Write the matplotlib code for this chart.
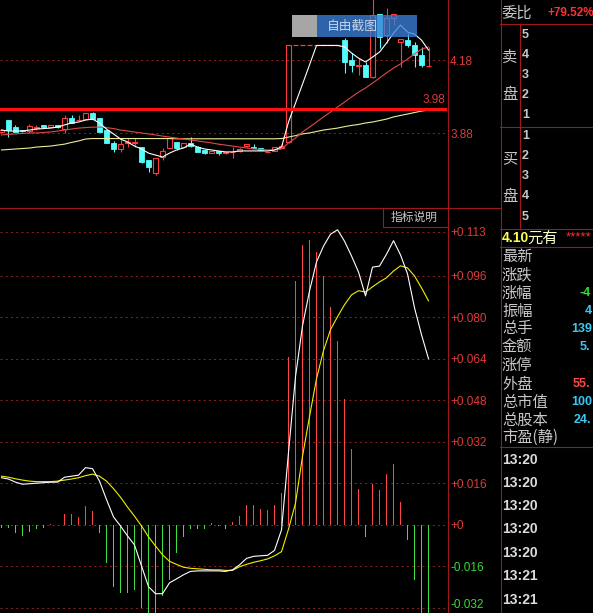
import matplotlib
matplotlib.use("Agg")
import matplotlib.pyplot as plt
from matplotlib.patches import Rectangle
from matplotlib.lines import Line2D
import matplotlib.transforms as mtransforms
import numpy as np

plt.rcParams['font.family'] = ['Liberation Sans', 'Noto Sans CJK SC', 'DejaVu Sans']

W, H = 593, 613

# ---------------- price panel: one entry per bar ----------------
opens = [3.885, 3.934, 3.905, 3.893, 3.889, 3.903, 3.914, 3.905, 3.914, 3.897,
         3.942, 3.934, 3.938, 3.963, 3.942, 3.893, 3.840, 3.815, 3.840, 3.840,
         3.823, 3.770, 3.716, 3.782, 3.819, 3.844, 3.823, 3.840, 3.823, 3.811,
         3.798, 3.807, 3.798, 3.801, 3.807, 3.827, 3.823, 3.819, 3.801, 3.807,
         3.819, 3.844, 4.241, 4.241, 4.241, 4.241, 4.241, 4.241, 4.241, 4.263,
         4.181, 4.158, 4.161, 4.111, 4.370, 4.284, 4.354, 4.255, 4.263, 4.243,
         4.202, 4.156]
highs = [3.897, 3.934, 3.914, 3.893, 3.918, 3.914, 3.914, 3.914, 3.914, 3.955,
         3.955, 3.955, 3.963, 3.967, 3.942, 3.893, 3.848, 3.860, 3.860, 3.860,
         3.823, 3.770, 3.778, 3.819, 3.860, 3.844, 3.840, 3.864, 3.827, 3.811,
         3.807, 3.807, 3.803, 3.823, 3.819, 3.835, 3.835, 3.819, 3.803, 3.823,
         3.840, 4.241, 4.241, 4.241, 4.241, 4.241, 4.241, 4.241, 4.241, 4.272,
         4.210, 4.189, 4.173, 4.449, 4.370, 4.395, 4.370, 4.268, 4.292, 4.255,
         4.235, 4.235]
lows = [3.881, 3.864, 3.885, 3.885, 3.881, 3.893, 3.901, 3.905, 3.901, 3.881,
        3.922, 3.930, 3.938, 3.938, 3.885, 3.840, 3.803, 3.803, 3.823, 3.823,
        3.757, 3.720, 3.708, 3.770, 3.819, 3.811, 3.823, 3.823, 3.803, 3.794,
        3.798, 3.790, 3.794, 3.778, 3.803, 3.823, 3.819, 3.811, 3.798, 3.807,
        3.819, 3.840, 4.241, 4.241, 4.241, 4.241, 4.241, 4.241, 4.241, 4.128,
        4.132, 4.119, 4.111, 4.107, 4.230, 4.251, 4.325, 4.152, 4.235, 4.152,
        4.152, 4.152]
closes = [3.893, 3.893, 3.885, 3.887, 3.910, 3.905, 3.905, 3.914, 3.905, 3.942,
          3.922, 3.936, 3.963, 3.938, 3.885, 3.840, 3.815, 3.835, 3.842, 3.842,
          3.761, 3.741, 3.778, 3.807, 3.860, 3.819, 3.840, 3.827, 3.803, 3.798,
          3.807, 3.798, 3.801, 3.803, 3.815, 3.835, 3.819, 3.811, 3.803, 3.823,
          3.827, 4.241, 4.241, 4.241, 4.241, 4.241, 4.241, 4.241, 4.241, 4.173,
          4.161, 4.161, 4.111, 4.366, 4.276, 4.354, 4.370, 4.268, 4.243, 4.202,
          4.161, 4.158]

ma_short = [3.893, 3.889, 3.889, 3.889, 3.893, 3.897, 3.899, 3.901, 3.905, 3.914,
            3.922, 3.926, 3.934, 3.938, 3.922, 3.897, 3.877, 3.856, 3.844, 3.827,
            3.815, 3.798, 3.790, 3.782, 3.798, 3.811, 3.819, 3.835, 3.823, 3.815,
            3.811, 3.807, 3.803, 3.803, 3.807, 3.807, 3.807, 3.807, 3.807, 3.811,
            3.823, 3.926, 4.004, 4.082, 4.161, 4.241, 4.241, 4.241, 4.241, 4.235,
            4.210, 4.189, 4.173, 4.193, 4.214, 4.251, 4.292, 4.325, 4.296, 4.288,
            4.263, 4.222]
ma_mid = [3.873, 3.875, 3.877, 3.879, 3.881, 3.881, 3.883, 3.885, 3.889, 3.893,
          3.897, 3.901, 3.903, 3.905, 3.905, 3.903, 3.899, 3.893, 3.889, 3.885,
          3.881, 3.877, 3.873, 3.868, 3.864, 3.860, 3.856, 3.852, 3.848, 3.844,
          3.840, 3.835, 3.831, 3.827, 3.823, 3.819, 3.815, 3.813, 3.811, 3.811,
          3.815, 3.840, 3.860, 3.885, 3.905, 3.926, 3.947, 3.967, 3.988, 4.008,
          4.029, 4.049, 4.066, 4.086, 4.107, 4.128, 4.148, 4.165, 4.185, 4.206,
          4.226, 4.235]
ma_long = [3.811, 3.813, 3.815, 3.817, 3.819, 3.823, 3.825, 3.827, 3.831, 3.835,
           3.842, 3.848, 3.856, 3.858, 3.858, 3.858, 3.858, 3.858, 3.858, 3.858,
           3.858, 3.858, 3.858, 3.858, 3.858, 3.857, 3.857, 3.857, 3.857, 3.857,
           3.857, 3.857, 3.857, 3.857, 3.857, 3.857, 3.857, 3.857, 3.857, 3.857,
           3.858, 3.864, 3.870, 3.877, 3.881, 3.887, 3.893, 3.897, 3.901, 3.907,
           3.912, 3.916, 3.922, 3.926, 3.932, 3.938, 3.947, 3.953, 3.959, 3.965,
           3.971, 3.975]

price_ticks = [4.18, 3.88]
price_tick_labels = ["4.18", "3.88"]
pressure_level = 3.98
pressure_label = "3.98"

# ---------------- MACD panel ----------------
macd_hist = [-0.0013, -0.0013, -0.0033, -0.0043, -0.0027, -0.0017, -0.0011, 0.0002, -0.0002, 0.0040,
             0.0040, 0.0031, 0.0073, 0.0054, -0.0031, -0.0146, -0.0241, -0.0263, -0.0263, -0.0253,
             -0.0321, -0.0365, -0.0352, -0.0276, -0.0212, -0.0108, -0.0046, -0.0017, -0.0017, -0.0017,
             0.0008, -0.0006, -0.0016, 0.0010, 0.0035, 0.0076, 0.0076, 0.0062, 0.0056, 0.0076,
             0.0122, 0.0645, 0.0940, 0.1078, 0.1096, 0.1052, 0.0959, 0.0840, 0.0707, 0.0483,
             0.0291, 0.0136, -0.0046, 0.0156, 0.0133, 0.0195, 0.0233, 0.0088, -0.0059, -0.0212,
             -0.0380, -0.0380]
dif = [0.0181, 0.0176, 0.0164, 0.0156, 0.0158, 0.0160, 0.0162, 0.0164, 0.0164, 0.0183,
       0.0187, 0.0191, 0.0220, 0.0216, 0.0168, 0.0097, 0.0030, -0.0005, -0.0043, -0.0078,
       -0.0159, -0.0239, -0.0266, -0.0266, -0.0224, -0.0209, -0.0193, -0.0180, -0.0178, -0.0178,
       -0.0178, -0.0178, -0.0180, -0.0174, -0.0155, -0.0130, -0.0122, -0.0120, -0.0118, -0.0099,
       -0.0020, 0.0279, 0.0571, 0.0767, 0.0901, 0.1013, 0.1074, 0.1120, 0.1137, 0.1093,
       0.1036, 0.0974, 0.0882, 0.0993, 0.0997, 0.1043, 0.1095, 0.1040, 0.0967, 0.0836,
       0.0732, 0.0640]
dea = [0.0187, 0.0183, 0.0177, 0.0172, 0.0168, 0.0166, 0.0166, 0.0166, 0.0168, 0.0172,
       0.0176, 0.0181, 0.0189, 0.0195, 0.0187, 0.0168, 0.0139, 0.0106, 0.0068, 0.0033,
       -0.0005, -0.0047, -0.0082, -0.0116, -0.0141, -0.0153, -0.0164, -0.0168, -0.0170, -0.0172,
       -0.0174, -0.0174, -0.0176, -0.0176, -0.0162, -0.0153, -0.0145, -0.0139, -0.0132, -0.0120,
       -0.0104, -0.0017, 0.0083, 0.0264, 0.0417, 0.0563, 0.0671, 0.0752, 0.0802, 0.0848,
       0.0886, 0.0902, 0.0897, 0.0917, 0.0936, 0.0952, 0.0978, 0.0998, 0.0990, 0.0959,
       0.0913, 0.0863]
macd_ticks = [0.113, 0.096, 0.080, 0.064, 0.048, 0.032, 0.016, 0.0, -0.016, -0.032]
macd_tick_labels = ["+0.113", "+0.096", "+0.080", "+0.064", "+0.048", "+0.032",
                    "+0.016", "+0", "-0.016", "-0.032"]

# ---------------- quote side panel ----------------
order_ratio_label = "委比"
order_ratio_value = "+79.52%"
ask_levels = ["5", "4", "3", "2", "1"]
bid_levels = ["1", "2", "3", "4", "5"]
last_price_text = "4.10"
last_price_unit = "元有"
quote_fields = ["最新", "涨跌", "涨幅", "振幅", "总手", "金额", "涨停", "外盘", "总市值", "总股本", "市盈(静)"]
quote_values = ["", "", "-4", "4", "139", "5.", "", "55.", "100", "24.", ""]
quote_value_colors = ["", "", "#33e033", "#3cc8f0", "#3cc8f0", "#3cc8f0", "",
                      "#ff4848", "#3cc8f0", "#3cc8f0", ""]
quote_value_x = [0, 0, 579, 585, 571, 580, 0, 573, 571, 574, 0]
trade_times = ["13:20", "13:20", "13:20", "13:20", "13:20", "13:21", "13:21"]

# ---------------- styling ----------------
BG = "black"
UP = "#ff3c3c"
DOWN = "#54fcfc"
FRAME = "#a01818"
GRID = "#8c1c1c"
LABEL_RED = "#e03a3a"
LABEL_GREEN = "#33dd33"
TEXT_GRAY = "#c8c8c8"
CJK = ['Noto Sans CJK SC', 'DejaVu Sans']


def fx(x):
    return x / W


def fy(y):
    return 1 - y / H


fig = plt.figure(figsize=(W / 100, H / 100), dpi=100, facecolor=BG)
ax_p = fig.add_axes([0, fy(207), fx(447), 207 / H])
ax_m = fig.add_axes([0, 0, fx(447), (H - 207) / H])

n = len(closes)
xs = np.arange(n)
x_lo, x_hi = -0.214, 63.64

for ax in (ax_p, ax_m):
    ax.set_facecolor(BG)
    for s in ax.spines.values():
        s.set_visible(False)
    ax.tick_params(axis='x', bottom=False, labelbottom=False)
    ax.yaxis.tick_right()
    ax.tick_params(axis='y', length=0, pad=2.2, labelsize=8.5)
    ax.set_xlim(x_lo, x_hi)

# ---- candles ----
body_w = 0.7
for i in xs:
    o, h, l, c = opens[i], highs[i], lows[i], closes[i]
    if c >= o:
        if c - o < 1e-9:
            ax_p.hlines(c, i - body_w / 2, i + body_w / 2, color=UP, lw=0.9, zorder=2)
            if h > c or l < c:
                ax_p.vlines(i, l, h, color=UP, lw=0.8, zorder=2)
        else:
            ax_p.add_patch(Rectangle((i - body_w / 2, o), body_w, c - o, facecolor='none',
                                     edgecolor=UP, lw=0.8, zorder=2))
            if l < o:
                ax_p.vlines(i, l, o, color=UP, lw=0.8, zorder=2)
            if h > c:
                ax_p.vlines(i, c, h, color=UP, lw=0.8, zorder=2)
    else:
        ax_p.vlines(i, l, h, color=DOWN, lw=0.8, zorder=2)
        ax_p.add_patch(Rectangle((i - body_w / 2, c), body_w, o - c, facecolor=DOWN,
                                 edgecolor=DOWN, lw=0.6, zorder=2))

ax_p.plot(xs, ma_long, color="#ecec98", lw=0.8, zorder=3)
ax_p.plot(xs, ma_mid, color="#e04848", lw=0.8, zorder=3)
ax_p.plot(xs, ma_short, color="white", lw=0.8, zorder=3)

for v in price_ticks:
    ax_p.axhline(v, color=GRID, lw=0.75, ls=(0, (2, 3)), zorder=1)
ax_p.axhline(pressure_level, color="#ff1010", lw=2.2, zorder=4)
ax_p.annotate(pressure_label, xy=(1, pressure_level),
              xycoords=(ax_p.transAxes, ax_p.transData),
              xytext=(-1.5, 2), textcoords='offset points', ha='right', va='bottom',
              color=LABEL_RED, fontsize=8.5)
ax_p.set_yticks(price_ticks)
ax_p.set_yticklabels(price_tick_labels)
for lbl in ax_p.get_yticklabels():
    lbl.set_color(LABEL_RED)
ax_p.set_ylim(3.5763, 4.4281)

# ---- MACD ----
for v in macd_ticks:
    ax_m.axhline(v, color=GRID, lw=0.75, ls=(0, (2, 3)), zorder=1)
bar_colors = [("#ff4646" if v >= 0 else "#3ee03e") for v in macd_hist]
ax_m.bar(xs, macd_hist, width=0.15, color=bar_colors, linewidth=0,
         antialiased=False, zorder=2)
ax_m.plot(xs, dea, color="#f0f000", lw=0.8, zorder=3)
ax_m.plot(xs, dif, color="white", lw=0.8, zorder=3)
ax_m.set_yticks(macd_ticks)
ax_m.set_yticklabels(macd_tick_labels)
lift = mtransforms.ScaledTranslation(0, 3 / 72, fig.dpi_scale_trans)
for lbl, v in zip(ax_m.get_yticklabels(), macd_ticks):
    lbl.set_color(LABEL_RED if v >= 0 else LABEL_GREEN)
for tk in ax_m.yaxis.get_major_ticks()[-1:]:
    tk.label2.set_transform(tk.label2.get_transform() + lift)
ax_m.set_ylim(-0.03404, 0.12248)


# ---- frame lines ----
def seg(x0, y0, x1, y1, color=FRAME, lw=0.8):
    fig.add_artist(Line2D([fx(x0), fx(x1)], [fy(y0), fy(y1)], transform=fig.transFigure,
                          color=color, lw=lw, zorder=8))


seg(0, 207.5, 500, 207.5)
seg(447.5, 0, 447.5, H)
seg(500.5, 0, 500.5, H)
seg(382.5, 207.5, 382.5, 226.5)
seg(382.5, 226.5, 447.5, 226.5)
seg(500, 23.5, W, 23.5)
seg(500, 126.5, W, 126.5)
seg(500, 228.5, W, 228.5)
seg(500, 246.5, W, 246.5)
seg(500, 446.5, W, 446.5)
seg(519.5, 23.5, 519.5, 228.5)

fig.text(fx(414), fy(217), "指标说明", ha='center', va='center', color=TEXT_GRAY,
         fontsize=8.5, family=CJK, zorder=9)

# ---- screenshot toolbar ----
fig.add_artist(Rectangle((fx(292), fy(37)), (317 - 292) / W, 22 / H, transform=fig.transFigure,
                         facecolor="#a6a6a6", edgecolor='none', zorder=10))
fig.add_artist(Rectangle((fx(317), fy(37)), 100 / W, 22 / H, transform=fig.transFigure,
                         facecolor="#3a80d8", edgecolor='none', alpha=0.78, zorder=10))
fig.text(fx(352), fy(26.5), "自由截图", ha='center', va='center', color="#c8d4e8",
         fontsize=9.2, family=CJK, zorder=11)

# ---- quote panel ----
fig.text(fx(501), fy(13), order_ratio_label, ha='left', va='center', color=TEXT_GRAY,
         fontsize=11, family=CJK, zorder=9)
fig.text(fx(547), fy(13), order_ratio_value, ha='left', va='center', color="#ff3030",
         fontsize=8.5, fontweight='bold', zorder=9)

ask_y = [35, 55, 75.5, 95.5, 115.5]
bid_y = [135.5, 156, 176, 196, 217]
for lab, yy in zip(ask_levels, ask_y):
    fig.text(fx(522), fy(yy), lab, ha='left', va='center', color=TEXT_GRAY,
             fontsize=9, fontweight='bold', zorder=9)
for lab, yy in zip(bid_levels, bid_y):
    fig.text(fx(522), fy(yy), lab, ha='left', va='center', color=TEXT_GRAY,
             fontsize=9, fontweight='bold', zorder=9)
for ch, yy in [("卖", 57), ("盘", 94), ("买", 159), ("盘", 196)]:
    fig.text(fx(510), fy(yy), ch, ha='center', va='center', color=TEXT_GRAY,
             fontsize=11, family=CJK, zorder=9)

fig.text(fx(502), fy(238), last_price_text, ha='left', va='center', color="#ffff50",
         fontsize=10, fontweight='bold', zorder=9)
fig.text(fx(527), fy(238), last_price_unit, ha='left', va='center', color="#ffffc8",
         fontsize=11, family=CJK, zorder=9)
fig.text(fx(566), fy(237), "*****", ha='left', va='center', color="#ff3030",
         fontsize=9.5, zorder=9)

field_y = [256, 274.5, 293, 311, 329, 347, 365, 384, 402, 420, 437.5]
for name, val, col, vx, yy in zip(quote_fields, quote_values, quote_value_colors,
                                  quote_value_x, field_y):
    fig.text(fx(502), fy(yy), name, ha='left', va='center', color=TEXT_GRAY,
             fontsize=11, family=CJK, zorder=9)
    if val:
        fig.text(fx(vx), fy(yy), val, ha='left', va='center', color=col,
                 fontsize=9, fontweight='bold', zorder=9)

time_y = [460, 483, 506, 529, 553, 576, 599.5]
for t, yy in zip(trade_times, time_y):
    fig.text(fx(502), fy(yy), t, ha='left', va='center', color="#dcdcdc",
             fontsize=10, fontweight='bold', zorder=9)

fig.savefig("out.png", dpi=100, facecolor=BG)
